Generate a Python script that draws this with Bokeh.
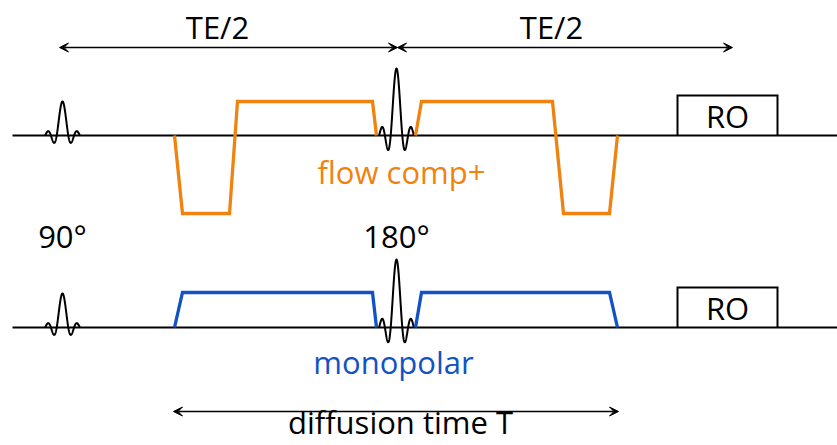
import numpy as np
from bokeh.plotting import figure
from bokeh.models import Range1d, Arrow, VeeHead
from bokeh.core.properties import value
from bokeh.embed import file_html
from bokeh.resources import INLINE

# ---- sequence timing (horizontal units) and amplitudes (vertical units) ----
seq_start, seq_end = 12, 837

rf_center = [62, 396]          # 90° excitation, 180° refocusing
rf_label = ["90°", "180°"]
rf_amp_flow = [34, 67]
rf_amp_mono = [34, 68]
rf_lobe = 5.8                  # sinc lobe width

# flow-compensated diffusion gradients (bipolar pairs)
flow_t1 = [174, 182, 229, 237, 372, 376]
flow_g1 = [0, -78, -78, 34, 34, 0]
flow_t2 = [415, 421, 552, 563, 609, 617]
flow_g2 = [0, 34, 34, -78, -78, 0]

# monopolar diffusion gradients
mono_t1 = [174, 182, 372, 376]
mono_g1 = [0, 35, 35, 0]
mono_t2 = [415, 421, 609, 617]
mono_g2 = [0, 35, 35, 0]

ro_start, ro_end = 677, 777
ro_height = [40, 40]

te_marks = [59, 397, 732]
diff_span = [173, 618]

# ---- layout of the two rows ----
base_flow = 310
base_mono = 118

ORANGE = "#F0820F"
BLUE = "#1152C4"
FONT = value("Open Sans")
FS = "31px"

p = figure(width=837, height=445, x_range=Range1d(0, 837), y_range=Range1d(0, 445),
           output_backend="svg", toolbar_location=None, min_border=0,
           x_axis_location=None, y_axis_location=None)
p.grid.visible = False
p.outline_line_color = None
p.background_fill_color = "white"


def rf_pulse(center, amp, base):
    u = np.linspace(-3, 3, 301)
    return center + u * rf_lobe, base + amp * np.sinc(u)


for base, amps in ((base_flow, rf_amp_flow), (base_mono, rf_amp_mono)):
    # time axis
    p.line([seq_start, seq_end], [base, base], line_color="black", line_width=2)
    # RF pulses
    for c, a in zip(rf_center, amps):
        xs, ys = rf_pulse(c, a, base)
        p.line(xs, ys, line_color="black", line_width=2)

# readout boxes
for base, h in zip((base_flow, base_mono), ro_height):
    p.line([ro_start, ro_start, ro_end, ro_end], [base, base + h, base + h, base],
           line_color="black", line_width=2, line_join="miter")

# gradients
for t, g in ((flow_t1, flow_g1), (flow_t2, flow_g2)):
    p.line(t, [base_flow + v for v in g], line_color=ORANGE, line_width=3.3, line_join="miter")
for t, g in ((mono_t1, mono_g1), (mono_t2, mono_g2)):
    p.line(t, [base_mono + v for v in g], line_color=BLUE, line_width=3.3, line_join="miter")


def head():
    return VeeHead(size=9, fill_color="black", line_color="black", line_width=1)


y_te = 398
for a, b in ((te_marks[0], te_marks[1]), (te_marks[1], te_marks[2])):
    p.add_layout(Arrow(x_start=a, y_start=y_te, x_end=b, y_end=y_te, start=head(), end=head(),
                       line_color="black", line_width=1.3))
y_diff = 34
p.add_layout(Arrow(x_start=diff_span[0], y_start=y_diff, x_end=diff_span[1], y_end=y_diff,
                   start=head(), end=head(), line_color="black", line_width=1.3))

# labels
def label(xs, ys, texts, color="black"):
    p.text(x=xs, y=ys, text=texts, text_font=FONT, text_font_size=FS,
           text_align="center", text_baseline="alphabetic", text_color=color)


label([217, 551], [419, 419], ["TE/2", "TE/2"])
label(rf_center, [210, 210], rf_label)
label([727, 727], [330, 138], ["RO", "RO"])
label([401], [274], ["flow comp+"], ORANGE)
label([393], [84], ["monopolar"], BLUE)
label([400], [24], ["diffusion time T"])

open("out.html", "w").write(file_html(p, INLINE))
